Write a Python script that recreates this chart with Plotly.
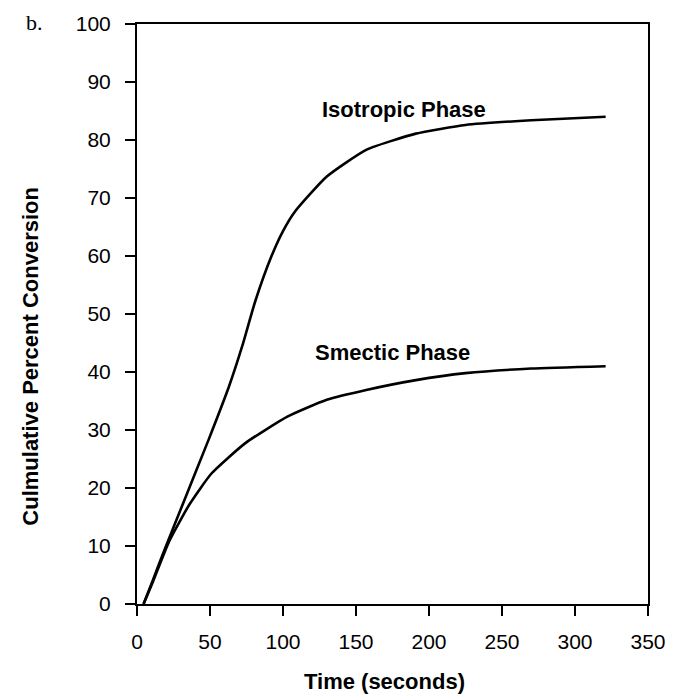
import plotly.graph_objects as go

# Data
iso_t = [4.5, 11, 18, 31, 49, 63, 72, 81, 92, 100, 108, 130, 157, 191, 225, 270, 321]
iso_v = [0, 4.2, 8.8, 17.0, 28.3, 37.5, 44.4, 52.2, 59.9, 64.3, 67.6, 73.7, 78.3, 81.1, 82.6, 83.4, 84.0]

sme_t = [4.5, 11, 22, 36, 51, 74, 103, 130, 157, 191, 225, 270, 321]
sme_v = [0, 3.9, 10.8, 17.2, 22.5, 27.7, 32.3, 35.2, 36.9, 38.6, 39.8, 40.6, 41.0]

x_ticks = [0, 50, 100, 150, 200, 250, 300, 350]
y_ticks = [0, 10, 20, 30, 40, 50, 60, 70, 80, 90, 100]

labels = ["Isotropic Phase", "Smectic Phase"]
label_pos = [(183, 85.3), (175, 43.3)]

FONT = "Liberation Sans, Arial, sans-serif"

fig = go.Figure()
fig.add_trace(go.Scatter(x=iso_t, y=iso_v, mode="lines",
                         line=dict(color="black", width=2.6, shape="spline", smoothing=0.5),
                         showlegend=False, hoverinfo="skip"))
fig.add_trace(go.Scatter(x=sme_t, y=sme_v, mode="lines",
                         line=dict(color="black", width=2.6, shape="spline", smoothing=0.5),
                         showlegend=False, hoverinfo="skip"))

for txt, (lx, ly) in zip(labels, label_pos):
    fig.add_annotation(x=lx, y=ly, xref="x", yref="y", text=f"<b>{txt}</b>",
                       showarrow=False, font=dict(family=FONT, size=22, color="black"))

fig.add_annotation(x=0.485, y=-0.158, xref="paper", yref="paper",
                   text="<b>Time (seconds)</b>", showarrow=False,
                   font=dict(family=FONT, size=22, color="black"))
fig.add_annotation(x=-0.236, y=0.428, xref="paper", yref="paper",
                   text="<b>Culmulative Percent Conversion</b>", textangle=-90,
                   showarrow=False, font=dict(family=FONT, size=22, color="black"))
fig.add_annotation(x=-0.222, y=1.028, xref="paper", yref="paper",
                   text="b.", showarrow=False,
                   font=dict(family="Liberation Serif, Times New Roman, serif", size=22, color="black"))

axis_common = dict(showgrid=False, zeroline=False, showline=True, linecolor="black",
                   linewidth=2, mirror=True, ticks="outside", ticklen=10, tickwidth=2,
                   tickcolor="black", tickfont=dict(family=FONT, size=21, color="black"))

fig.update_xaxes(range=[0, 350], tickvals=x_ticks, ticktext=[str(v) for v in x_ticks],
                 ticklabelstandoff=8, **axis_common)
fig.update_yaxes(range=[0, 100], tickvals=y_ticks, ticktext=[str(v) for v in y_ticks],
                 ticklabelstandoff=10, **axis_common)

fig.update_layout(width=678, height=698, margin=dict(l=137, r=23, t=24, b=94),
                  paper_bgcolor="white", plot_bgcolor="white")

fig.write_html("out.html")
